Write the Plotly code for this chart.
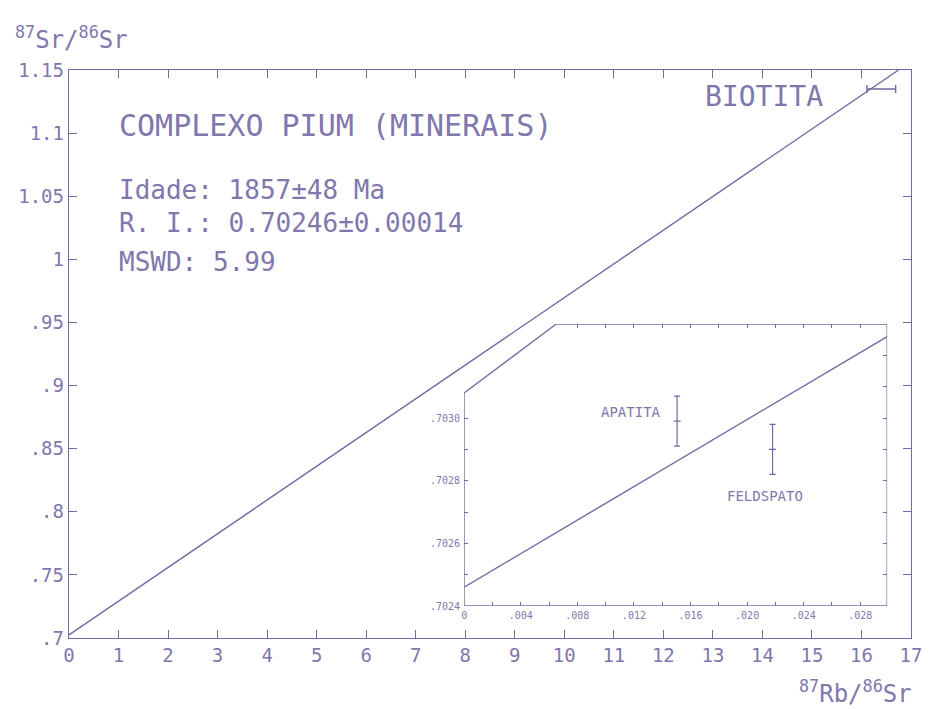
import plotly.graph_objects as go

# ---------------- data ----------------
main_x_ticks = list(range(0, 18))
main_y_ticks = [0.70, 0.75, 0.80, 0.85, 0.90, 0.95, 1.00, 1.05, 1.10, 1.15]
main_y_labels = [".7", ".75", ".8", ".85", ".9", ".95", "1", "1.05", "1.1", "1.15"]

# isochron line (main panel) and the biotite point
iso_x = [0.0, 16.75]
iso_y = [0.70246, 1.15]
biotita_x = [16.40]
biotita_y = [1.135]
biotita_xerr = [0.29]

# inset
inset_x_ticks = [0.000, 0.002, 0.004, 0.006, 0.008, 0.010, 0.012, 0.014,
                 0.016, 0.018, 0.020, 0.022, 0.024, 0.026, 0.028]
inset_x_labels = ["0", "", ".004", "", ".008", "", ".012", "",
                  ".016", "", ".020", "", ".024", "", ".028"]
inset_x_top_ticks = [0.008, 0.010, 0.012, 0.014, 0.016, 0.018, 0.020,
                     0.022, 0.024, 0.026, 0.028]
inset_y_ticks = [0.7024, 0.7025, 0.7026, 0.7027, 0.7028, 0.7029, 0.7030]
inset_y_labels = [".7024", "", ".7026", "", ".7028", "", ".7030"]
inset_y_right_ticks = [0.7025, 0.7026, 0.7027, 0.7028, 0.7029, 0.7030,
                       0.7031, 0.7032]

ins_line_x = [0.0, 0.0299]
ins_line_y = [0.70246, 0.70326]

minerals = ["APATITA", "FELDSPATO"]
min_x = [0.01505, 0.0218]
min_y = [0.70299, 0.70290]
min_yerr = [0.00008, 0.00008]

INSET_XR = [0.0, 0.0299]
INSET_YR = [0.7024, 0.7033]
CUT_X = 0.00651   # top-left corner of inset frame is cut diagonally
CUT_Y = 0.70308

INK = "#8177ad"
LINE = "#7268a4"
FONT = "DejaVu Sans Mono"

fig = go.Figure()

# main isochron
fig.add_trace(go.Scatter(x=iso_x, y=iso_y, mode="lines",
                         line=dict(color=LINE, width=1.4),
                         showlegend=False, hoverinfo="skip"))
# biotite
fig.add_trace(go.Scatter(x=biotita_x, y=biotita_y, mode="markers",
                         marker=dict(size=1, color=LINE),
                         error_x=dict(type="data", array=biotita_xerr,
                                      color=LINE, thickness=1.4, width=4),
                         showlegend=False, hoverinfo="skip"))
# inset line
fig.add_trace(go.Scatter(x=ins_line_x, y=ins_line_y, mode="lines",
                         xaxis="x2", yaxis="y2",
                         line=dict(color=LINE, width=1.4),
                         showlegend=False, hoverinfo="skip"))
# inset minerals
fig.add_trace(go.Scatter(x=min_x, y=min_y, mode="markers",
                         xaxis="x2", yaxis="y2",
                         marker=dict(symbol="line-ew", size=5,
                                     line=dict(color=LINE, width=1.2)),
                         error_y=dict(type="data", array=min_yerr,
                                      color=LINE, thickness=1.2, width=3),
                         showlegend=False, hoverinfo="skip"))
# helper trace for the mirrored inset axes
fig.add_trace(go.Scatter(x=[None], y=[None], xaxis="x3", yaxis="y3",
                         mode="markers", showlegend=False, hoverinfo="skip"))

tickfont = dict(family=FONT, size=19, color=INK)
inset_font = dict(family=FONT, size=10, color=INK)

fig.update_layout(
    width=934, height=709,
    margin=dict(l=69, r=17, t=70, b=71),
    paper_bgcolor="white", plot_bgcolor="rgba(0,0,0,0)",
    xaxis=dict(range=[0, 17], tickmode="array", tickvals=main_x_ticks,
               ticktext=[str(v) for v in main_x_ticks],
               ticks="inside", ticklen=8, tickwidth=1.3, tickcolor=LINE,
               showline=True, linecolor=LINE, linewidth=1.4, mirror="ticks",
               showgrid=False, zeroline=False, tickfont=tickfont),
    yaxis=dict(range=[0.7, 1.15], tickmode="array", tickvals=main_y_ticks,
               ticktext=main_y_labels,
               ticks="inside", ticklen=8, tickwidth=1.3, tickcolor=LINE,
               showline=True, linecolor=LINE, linewidth=1.4, mirror="ticks",
               showgrid=False, zeroline=False, tickfont=tickfont),
    xaxis2=dict(domain=[0.4693, 0.9717], anchor="y2", range=INSET_XR,
                tickmode="array", tickvals=inset_x_ticks, ticktext=inset_x_labels,
                ticks="inside", ticklen=4, tickwidth=1, tickcolor=LINE,
                showline=False, showgrid=False, zeroline=False,
                ticklabelstandoff=2, tickfont=inset_font),
    yaxis2=dict(domain=[0.0563, 0.5528], anchor="x2", range=INSET_YR,
                tickmode="array", tickvals=inset_y_ticks, ticktext=inset_y_labels,
                ticks="inside", ticklen=4, tickwidth=1, tickcolor=LINE,
                showline=False, showgrid=False, zeroline=False,
                ticklabelstandoff=3, tickfont=inset_font),
    xaxis3=dict(overlaying="x2", side="top", anchor="y2", range=INSET_XR,
                tickmode="array", tickvals=inset_x_top_ticks,
                ticks="inside", ticklen=4, tickwidth=1, tickcolor=LINE,
                showticklabels=False, showline=False, showgrid=False,
                zeroline=False),
    yaxis3=dict(overlaying="y2", side="right", anchor="x2", range=INSET_YR,
                tickmode="array", tickvals=inset_y_right_ticks,
                ticks="inside", ticklen=4, tickwidth=1, tickcolor=LINE,
                showticklabels=False, showline=False, showgrid=False,
                zeroline=False),
)

# inset frame with the cut corner
x0, x1 = INSET_XR
y0, y1 = INSET_YR
fig.add_shape(type="path", xref="x2", yref="y2",
              path=f"M {x0},{y0} L {x1},{y0} L {x1},{y1} L {CUT_X},{y1} L {x0},{CUT_Y} Z",
              line=dict(color=LINE, width=1.3), fillcolor="rgba(0,0,0,0)")

def txt(x, y, s, size, xanchor="left", xref="paper", yref="paper"):
    fig.add_annotation(x=x, y=y, xref=xref, yref=yref, text=s, showarrow=False,
                       xanchor=xanchor, yanchor="middle",
                       font=dict(family=FONT, size=size, color=INK))

txt(0.0566, 0.902, "COMPLEXO PIUM (MINERAIS)", 30)
txt(0.0566, 0.788, "Idade: 1857±48 Ma", 26)
txt(0.0566, 0.730, "R. I.: 0.70246±0.00014", 26)
txt(0.0566, 0.662, "MSWD: 5.99", 26)
txt(0.7524, 0.954, "BIOTITA", 28)
txt(0.6675, 0.398, minerals[0], 14, xanchor="center")
txt(0.8267, 0.250, minerals[1], 14, xanchor="center")

# axis titles
txt(-0.066, 1.056, "<sup>87</sup>Sr/<sup>86</sup>Sr", 24)
fig.add_annotation(x=1.0035, y=-0.095, xref="paper", yref="paper",
                   text="<sup>87</sup>Rb/<sup>86</sup>Sr", showarrow=False,
                   xanchor="right", yanchor="middle",
                   font=dict(family=FONT, size=24, color=INK))

fig.write_html("out.html", config={"displayModeBar": False},
               post_script="document.body.style.margin='0';document.body.style.overflow='hidden';")
